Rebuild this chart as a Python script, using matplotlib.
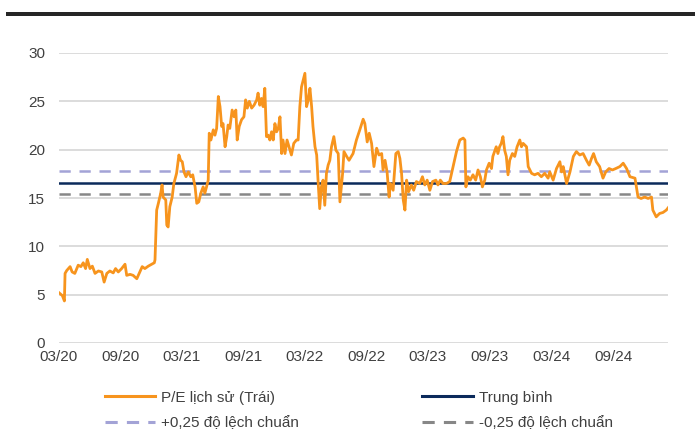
import matplotlib
matplotlib.use("Agg")
import matplotlib.pyplot as plt
import matplotlib.dates as mdates
from matplotlib.lines import Line2D
from matplotlib.patches import Rectangle
import pandas as pd

plt.rcParams["font.family"] = ["Liberation Sans", "DejaVu Sans"]

# P/E lịch sử: ngày tính từ 01/03/2020 và giá trị P/E
start = pd.Timestamp("2020-03-01")
days_from_start = [
    0, 10, 16, 18, 23, 33, 39, 47, 57, 65, 72, 79, 84, 92, 99, 107, 117, 127, 134, 142,
    151, 161, 168, 176, 186, 196, 201, 211, 220, 231, 240, 247, 255, 265, 275, 283, 285, 290, 295, 302,
    306, 309, 317, 320, 324, 329, 336, 341, 349, 356, 361, 366, 371, 377, 384, 391, 397, 404, 409, 415,
    421, 428, 433, 438, 443, 446, 451, 458, 463, 468, 473, 478, 483, 487, 493, 498, 502, 507, 514, 520,
    525, 529, 535, 542, 549, 554, 559, 565, 572, 579, 587, 591, 596, 601, 606, 611, 616, 621, 626, 631,
    636, 641, 646, 651, 656, 661, 665, 671, 677, 683, 690, 697, 705, 710, 715, 720, 725, 730, 735, 740,
    745, 750, 754, 760, 765, 769, 774, 779, 784, 789, 794, 799, 804, 809, 816, 822, 829, 834, 842, 846,
    854, 861, 873, 883, 893, 903, 908, 915, 921, 928, 935, 943, 950, 958, 962, 968, 974, 980, 984, 992,
    1000, 1007, 1012, 1017, 1022, 1027, 1032, 1038, 1046, 1053, 1061, 1071, 1079, 1086, 1093, 1101, 1109, 1119, 1125, 1132,
    1140, 1150, 1160, 1170, 1180, 1190, 1200, 1205, 1208, 1214, 1221, 1229, 1237, 1244, 1251, 1257, 1264, 1269, 1277, 1284,
    1288, 1298, 1303, 1308, 1313, 1318, 1323, 1328, 1333, 1338, 1346, 1353, 1360, 1368, 1373, 1378, 1388, 1393, 1403, 1412,
    1422, 1432, 1442, 1452, 1457, 1467, 1477, 1487, 1492, 1497, 1507, 1517, 1527, 1536, 1546, 1556, 1566, 1574, 1581, 1587,
    1595, 1605, 1615, 1623, 1633, 1643, 1653, 1665, 1675, 1685, 1695, 1710, 1719, 1728, 1739, 1749, 1759, 1763, 1773, 1783,
    1793, 1803, 1811,
]
pe_values = [
    5.2, 4.9, 4.35, 7.2, 7.5, 7.9, 7.35, 7.2, 8.05, 7.9, 8.3, 7.7, 8.65, 7.7, 7.95, 7.2, 7.45, 7.35, 6.3, 7.2,
    7.45, 7.25, 7.7, 7.35, 7.7, 8.15, 7.0, 7.1, 7.0, 6.65, 7.35, 7.9, 7.7, 7.95, 8.15, 8.3, 8.6, 13.75, 14.45, 15.5,
    16.35, 15.1, 14.8, 12.2, 12.0, 14.1, 15.1, 16.5, 17.55, 19.45, 18.9, 18.75, 17.7, 17.2, 17.7, 17.2, 17.4, 16.15, 14.45, 14.6,
    15.5, 16.15, 15.5, 16.15, 16.85, 21.7, 21.0, 22.05, 21.5, 22.2, 25.5, 24.45, 22.4, 22.7, 20.3, 21.35, 22.55, 22.2, 24.1, 23.4,
    24.1, 21.0, 22.4, 23.1, 23.4, 25.15, 24.3, 25.0, 24.3, 24.6, 25.15, 25.85, 24.6, 25.3, 24.45, 26.35, 21.35, 21.5, 21.0, 21.85,
    21.0, 22.7, 21.85, 22.2, 23.4, 19.6, 21.0, 19.6, 21.0, 20.3, 19.45, 20.65, 21.0, 21.0, 24.45, 26.5, 27.2, 27.9, 24.45, 25.15,
    26.35, 24.45, 22.4, 20.3, 19.45, 16.85, 13.9, 16.15, 16.85, 14.25, 17.55, 18.4, 18.9, 20.3, 21.35, 19.95, 19.6, 14.6, 17.55, 19.8,
    19.3, 18.9, 19.6, 21.0, 22.05, 23.15, 22.7, 20.8, 21.7, 20.65, 18.25, 20.15, 19.45, 19.6, 17.9, 18.9, 17.7, 15.1, 16.5, 15.8,
    19.6, 19.8, 19.1, 17.55, 14.8, 13.75, 16.85, 15.65, 16.35, 15.8, 16.7, 16.5, 17.2, 16.35, 16.85, 15.8, 16.7, 16.85, 16.35, 16.85,
    16.5, 16.5, 16.7, 18.25, 19.8, 21.0, 21.2, 21.0, 16.15, 17.2, 16.85, 17.4, 16.85, 17.9, 17.2, 16.15, 16.85, 17.9, 18.6, 18.05,
    19.3, 20.3, 19.6, 20.3, 20.65, 21.35, 19.95, 19.3, 17.4, 18.9, 19.6, 19.3, 20.3, 21.0, 20.3, 20.65, 20.3, 18.25, 17.55, 17.4,
    17.55, 17.2, 17.55, 17.05, 17.7, 16.85, 18.05, 18.75, 17.7, 18.25, 16.5, 17.7, 19.3, 19.8, 19.45, 19.6, 18.9, 18.4, 19.1, 19.6,
    18.75, 18.25, 17.05, 17.7, 18.05, 17.9, 18.05, 18.25, 18.6, 18.05, 17.2, 17.05, 15.1, 14.95, 15.1, 14.95, 15.1, 13.75, 13.05, 13.4,
    13.5, 13.75, 14.1,
]
pe_mean = 16.6
pe_std = 4.9

labels = ["P/E lịch sử (Trái)", "Trung bình", "+0,25 độ lệch chuẩn", "-0,25 độ lệch chuẩn"]

dates = start + pd.to_timedelta(days_from_start, unit="D")
upper = pe_mean + 0.25 * pe_std
lower = pe_mean - 0.25 * pe_std

orange = "#F7941D"
navy = "#0B2A5B"
lilac = "#A3A3D6"
grey = "#878787"
text_col = "#404040"

fig = plt.figure(figsize=(6.95, 4.34), dpi=100)
ax = fig.add_axes([59 / 695, 1 - 343 / 434, 609 / 695, 290 / 434])

# thanh ngang đậm phía trên
fig.add_artist(Rectangle((6 / 695, 1 - 16 / 434), 689 / 695, 4 / 434,
                         transform=fig.transFigure, color="#262626", lw=0))

ax.set_ylim(0, 30)
ax.set_yticks(range(0, 31, 5))
ax.yaxis.grid(True, color="#D9D9D9", lw=1.3)
ax.set_axisbelow(True)

ax.plot(dates, pe_values, color=orange, lw=2.0, zorder=3)
ax.axhline(upper, color=lilac, lw=1.8, ls=(0, (4.5, 3.5)), zorder=2)
ax.axhline(pe_mean, color=navy, lw=1.8, zorder=2)
ax.axhline(lower, color=grey, lw=1.8, ls=(0, (4.5, 3.5)), zorder=2)

ax.set_xlim(start, start + pd.Timedelta(days=1808))
ax.xaxis.set_major_locator(mdates.MonthLocator(bymonth=[3, 9], bymonthday=1))
ax.xaxis.set_major_formatter(mdates.DateFormatter("%m/%y"))

for s in ax.spines.values():
    s.set_visible(False)
ax.tick_params(length=0, labelsize=11, colors=text_col)
ax.tick_params(axis="y", pad=10)
ax.tick_params(axis="x", pad=5)

leg_lines = [
    Line2D([], [], color=orange, lw=2.2),
    Line2D([], [], color=lilac, lw=2.2, ls=(0, (4, 3))),
    Line2D([], [], color=navy, lw=2.2),
    Line2D([], [], color=grey, lw=2.2, ls=(0, (4, 3))),
]
fig.legend(leg_lines, [labels[0], labels[2], labels[1], labels[3]],
           ncol=2, loc="upper left", bbox_to_anchor=(91 / 695, 1 - 377 / 434),
           frameon=False, fontsize=11, handlelength=3.3, handletextpad=0.4,
           columnspacing=8.05, labelspacing=0.75, labelcolor=text_col)

plt.savefig("out.png", dpi=100)
